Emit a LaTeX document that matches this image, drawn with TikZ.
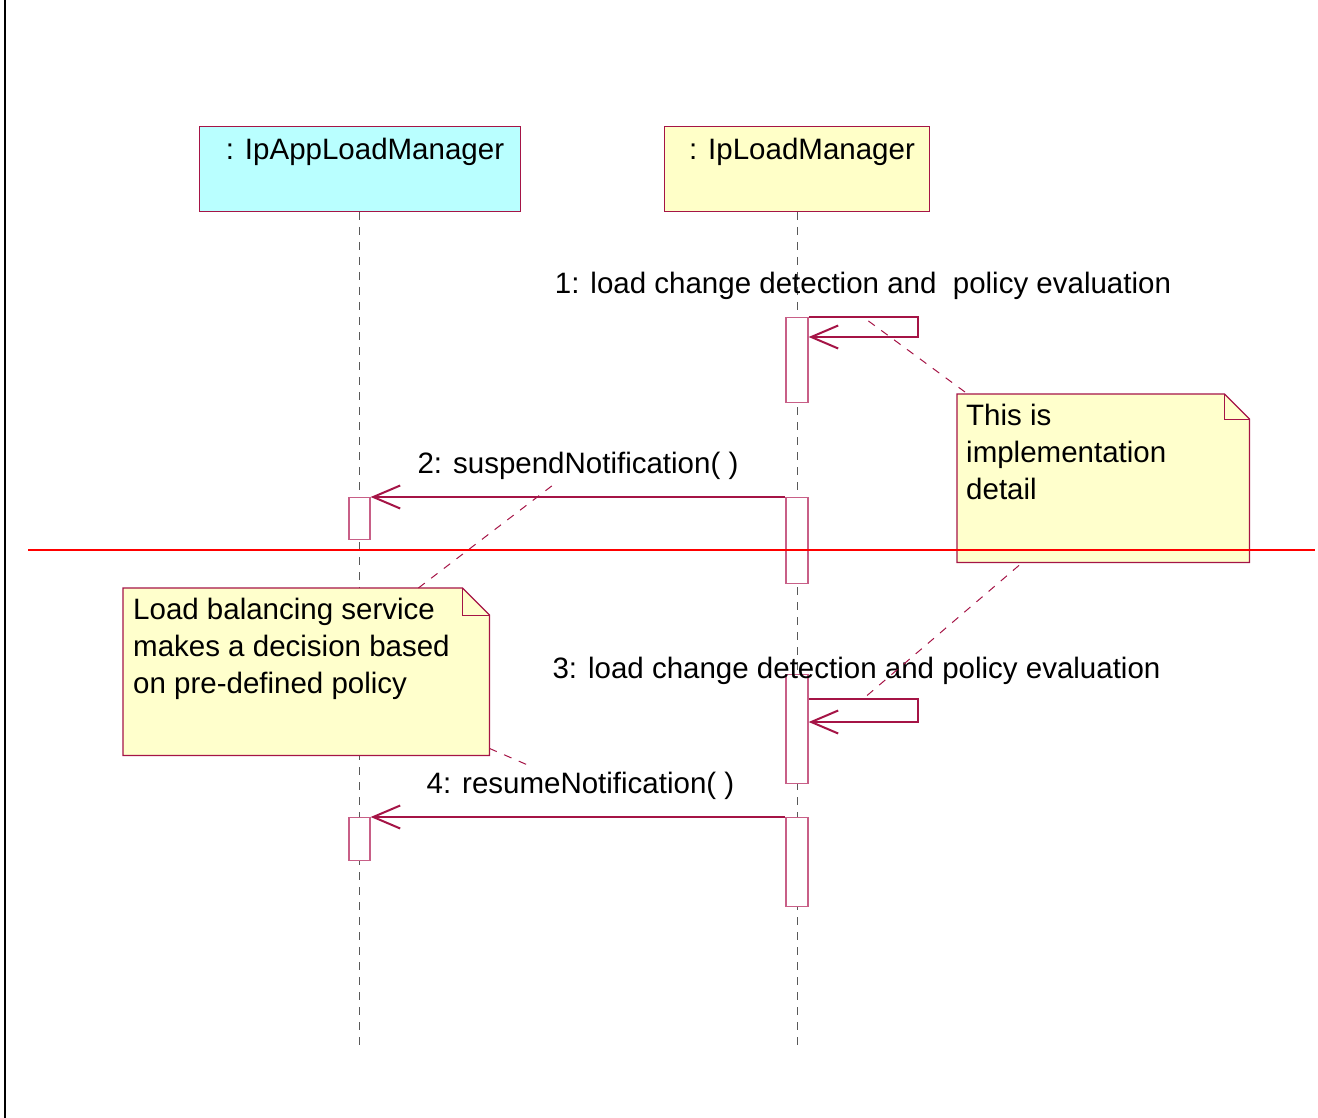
\documentclass[tikz,border=0pt]{standalone}
\usepackage{fontspec}
\setmainfont{Liberation Sans}
\usetikzlibrary{arrows.meta,positioning}

\definecolor{umlred}{RGB}{165,20,70}
\definecolor{actred}{RGB}{200,95,135}
\definecolor{appcyan}{RGB}{185,255,255}
\definecolor{mgryellow}{RGB}{255,255,200}
\definecolor{noteyellow}{RGB}{255,255,204}

\tikzset{
    objbox/.style={draw=umlred,line width=1pt,inner sep=0pt,anchor=north west},
    objname/.style={font=\fontsize{29.5}{37}\selectfont,inner sep=0pt},
    lifeline/.style={draw=gray!70!black,line width=1pt,dash pattern=on 8pt off 7pt},
    actbox/.style={draw=actred,fill=white,line width=1.3pt,inner sep=0pt,minimum width=22pt,anchor=north},
    msg/.style={draw=umlred,line width=1.3pt,-{Straight Barb[length=27pt,width=23pt,line width=2pt]}},
    msglabel/.style={font=\fontsize{29.5}{37}\selectfont,inner sep=0pt},
    notebody/.style={draw=umlred,fill=noteyellow,line width=1.2pt},
    notetext/.style={font=\fontsize{29.5}{37}\selectfont,align=left,anchor=north west,inner sep=0pt},
    notelink/.style={draw=umlred,line width=1pt,dash pattern=on 8pt off 8pt},
}

\begin{document}
\begin{tikzpicture}[x=1pt,y=-1pt]
    \useasboundingbox (0,0) rectangle (1318,1118);
    \draw[line width=2pt] (5,0) -- (5,1118);

    % objects
    \node[objbox,fill=appcyan,minimum width=321pt,minimum height=85pt] (app) at (199,126) {};
    \node[objbox,fill=mgryellow,minimum width=265pt,minimum height=85pt] (mgr) at (664,126) {};
    \node[objname] (appname) at ([xshift=5pt,yshift=-26pt]app.north) {: IpAppLoadManager};
    \node[objname] (mgrname) at ([xshift=5pt,yshift=-26pt]mgr.north) {: IpLoadManager};

    % lifelines
    \coordinate (append) at (359.5,1050);
    \coordinate (mgrend) at (797,1050);
    \draw[lifeline] (app.south -| append) -- (append);
    \draw[lifeline] (mgr.south -| mgrend) -- (mgrend);

    % activations
    \node[actbox,minimum height=85pt] (m1) at (797,317) {};
    \node[actbox,minimum height=86pt] (m2) at (797,497) {};
    \node[actbox,minimum height=42pt,minimum width=21pt] (a2) at (359.5,497) {};
    \node[actbox,minimum height=109pt] (m3) at (797,674) {};
    \node[actbox,minimum height=89pt] (m4) at (797,817) {};
    \node[actbox,minimum height=43pt,minimum width=21pt] (a4) at (359.5,817) {};

    % messages
    \coordinate (s1) at (918,317);
    \draw[msg] (m1.north east) -- (s1) -- (s1 |- 337,337) -- (m1.east |- 337,337);
    \node[msglabel] (l1) at (863,286) {1: load change detection and\ \ policy evaluation};

    \draw[msg] (m2.north west) -- (a2.north east);
    \node[msglabel] (l2) at (578,466) {2: suspendNotification( )};

    \coordinate (s3) at (918,699);
    \draw[msg] (m3.east |- s3) -- (s3) -- (s3 |- 722,722) -- (m3.east |- 722,722);
    \node[msglabel] (l3) at (856.5,671) {3: load change detection and policy evaluation};

    \draw[msg] (m4.north west) -- (a4.north east);
    \node[msglabel] (l4) at (580.5,786) {4: resumeNotification( )};

    % notes
    \node[minimum width=292pt,minimum height=168pt,inner sep=0pt,anchor=north west] (n1) at (957,394) {};
    \draw[notebody] (n1.north west) -- ([xshift=-25pt]n1.north east) -- ([yshift=-25pt]n1.north east)
        -- (n1.south east) -- (n1.south west) -- cycle;
    \draw[umlred,line width=1pt] ([xshift=-25pt]n1.north east) |- ([yshift=-25pt]n1.north east);
    \node[notetext] (t1) at (966,404) {This is\\implementation\\detail};

    \node[minimum width=366pt,minimum height=167pt,inner sep=0pt,anchor=north west] (n2) at (123,588) {};
    \draw[notebody] (n2.north west) -- ([xshift=-27pt]n2.north east) -- ([yshift=-27pt]n2.north east)
        -- (n2.south east) -- (n2.south west) -- cycle;
    \draw[umlred,line width=1pt] ([xshift=-27pt]n2.north east) |- ([yshift=-27pt]n2.north east);
    \node[notetext] (t2) at (133,598) {Load balancing service\\makes a decision based\\on pre-defined policy};

    % note links
    \coordinate (k1) at (863,317);
    \coordinate (k2) at (553,485);
    \coordinate (k3) at (863,699);
    \coordinate (k4) at (530,766);
    \draw[notelink] ([xshift=8pt,yshift=2pt]n1.north west) -- (k1);
    \draw[notelink] ([xshift=62pt,yshift=-3pt]n1.south west) -- (k3);
    \draw[notelink] ([xshift=-71pt]n2.north east) -- (k2);
    \draw[notelink] ([yshift=7pt]n2.south east) -- (k4);

    % separator
    \draw[red,line width=2pt] (28,550) -- (1315,550);
\end{tikzpicture}
\end{document}
